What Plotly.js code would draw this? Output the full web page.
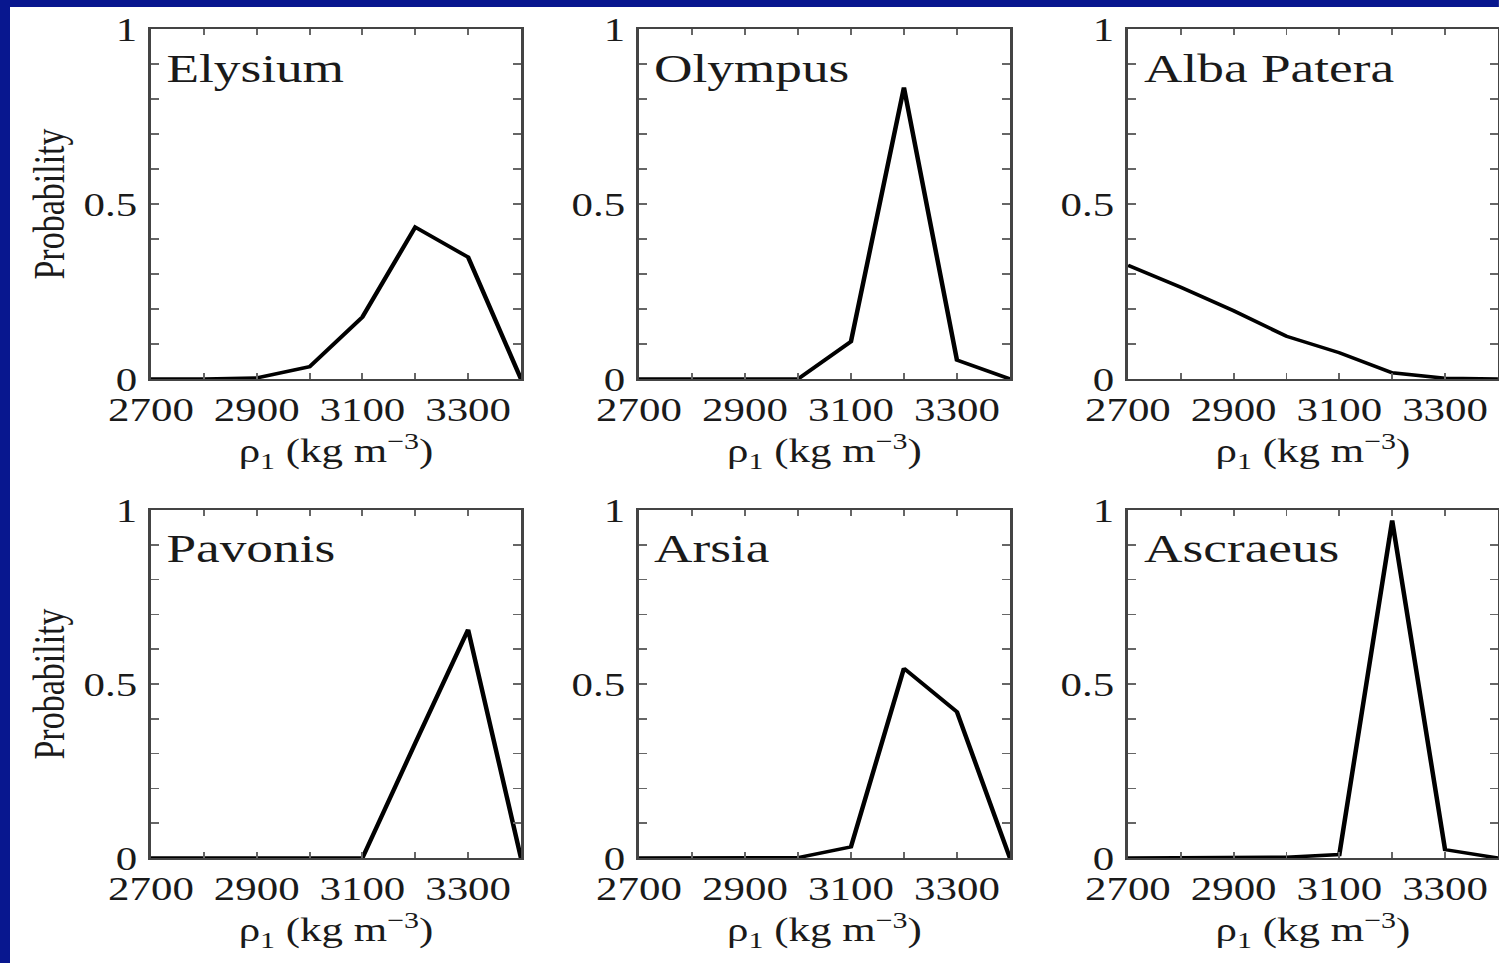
<!DOCTYPE html>
<html>
<head>
<meta charset="utf-8">
<script src="https://cdn.plot.ly/plotly-3.0.1.min.js"></script>
<style>
  html, body { margin:0; padding:0; background:#ffffff; overflow:hidden; }
  #wrap { width:1499px; height:963px; overflow:hidden; position:relative; }
  #chart { width:1153px; height:963px; transform:scaleX(1.3); transform-origin:0 0; }
</style>
</head>
<body>
<div id="wrap"><div id="chart"></div></div>
<script>
// ---- data ----
const density = [2700, 2800, 2900, 3000, 3100, 3200, 3300, 3400];
const volcanoNames = ['Elysium', 'Olympus', 'Alba Patera', 'Pavonis', 'Arsia', 'Ascraeus'];
const elysium    = [0, 0, 0.003, 0.035, 0.177, 0.434, 0.348, 0];
const olympus    = [0, 0, 0, 0, 0.107, 0.833, 0.054, 0];
const albaPatera = [0.325, 0.262, 0.195, 0.122, 0.075, 0.018, 0.002, 0];
const pavonis    = [0, 0, 0, 0, 0, 0.33, 0.656, 0];
const arsia      = [0, 0, 0, 0.001, 0.032, 0.545, 0.42, 0];
const ascraeus   = [0, 0, 0, 0.002, 0.01, 0.97, 0.024, 0];
const xTickVals = [2700, 2800, 2900, 3000, 3100, 3200, 3300, 3400];
const xTickText = ['2700', '', '2900', '', '3100', '', '3300', ''];
const yTickVals = [0, 0.1, 0.2, 0.3, 0.4, 0.5, 0.6, 0.7, 0.8, 0.9, 1];
const yTickText = ['0', '', '', '', '', '0.5', '', '', '', '', '1'];
const yLabel = 'Probability';
const xLabel = 'ρ<sub>1</sub> (kg m<sup>−3</sup>)';

const series = [elysium, olympus, albaPatera, pavonis, arsia, ascraeus];

// ---- layout geometry ----
const W = 1499, H = 963;
const colX = [[151, 521], [639, 1010], [1128, 1498]];
const rowY = [[29, 379], [510, 858]];
const FONT = 'Liberation Serif';
const AX = '#444444';
const TXT = '#1a1a1a';

const traces = [];
const layout = {
  width: 1153, height: 963,
  margin: {l: 0, r: 0, t: 0, b: 0},
  paper_bgcolor: '#ffffff', plot_bgcolor: '#ffffff',
  showlegend: false,
  font: {family: FONT, color: TXT, size: 32},
  annotations: [],
  shapes: [
    {type: 'rect', xref: 'paper', yref: 'paper', x0: 0, x1: 10 / W, y0: 0, y1: 1,
     fillcolor: '#08178f', line: {width: 0}, layer: 'above'},
    {type: 'rect', xref: 'paper', yref: 'paper', x0: 0, x1: 1, y0: 1 - 7 / H, y1: 1,
     fillcolor: '#08178f', line: {width: 0}, layer: 'above'}
  ]
};

for (let i = 0; i < 6; i++) {
  const r = Math.floor(i / 3), c = i % 3;
  const n = i === 0 ? '' : String(i + 1);
  traces.push({
    x: density, y: series[i], type: 'scatter', mode: 'lines',
    line: {color: '#000000', width: 3.5},
    xaxis: 'x' + n, yaxis: 'y' + n, hoverinfo: 'skip'
  });
  layout['xaxis' + n] = {
    domain: [colX[c][0] / W, colX[c][1] / W],
    anchor: 'y' + n,
    range: [2700, 3400],
    tickmode: 'array', tickvals: xTickVals, ticktext: xTickText,
    ticks: 'inside', ticklen: 6, tickwidth: 1.5, tickcolor: '#666666',
    showline: true, linecolor: AX, linewidth: 2, mirror: 'allticks',
    showgrid: false, zeroline: false,
    tickfont: {family: FONT, size: 33, color: TXT},
    ticklabelstandoff: 0,
    title: {text: xLabel, font: {family: FONT, size: 33, color: TXT}, standoff: 0}
  };
  layout['yaxis' + n] = {
    domain: [1 - rowY[r][1] / H, 1 - rowY[r][0] / H],
    anchor: 'x' + n,
    range: [0, 1],
    tickmode: 'array', tickvals: yTickVals, ticktext: yTickText,
    ticks: 'inside', ticklen: 6, tickwidth: 1.5, tickcolor: '#666666',
    showline: true, linecolor: AX, linewidth: 2, mirror: 'allticks',
    showgrid: false, zeroline: false,
    tickfont: {family: FONT, size: 33, color: TXT},
    ticklabelstandoff: 2,
    title: c === 0 ? {text: yLabel, font: {family: FONT, size: 34, color: TXT}, standoff: 4} : {text: ''}
  };
  layout.annotations.push({
    text: volcanoNames[i], showarrow: false,
    xref: 'x' + n + ' domain', yref: 'y' + n + ' domain',
    x: 0.035, y: 0.89, xanchor: 'left', yanchor: 'middle',
    font: {family: FONT, size: 41, color: TXT}
  });
}

Plotly.newPlot('chart', traces, layout, {displayModeBar: false, staticPlot: true});
</script>
</body>
</html>
